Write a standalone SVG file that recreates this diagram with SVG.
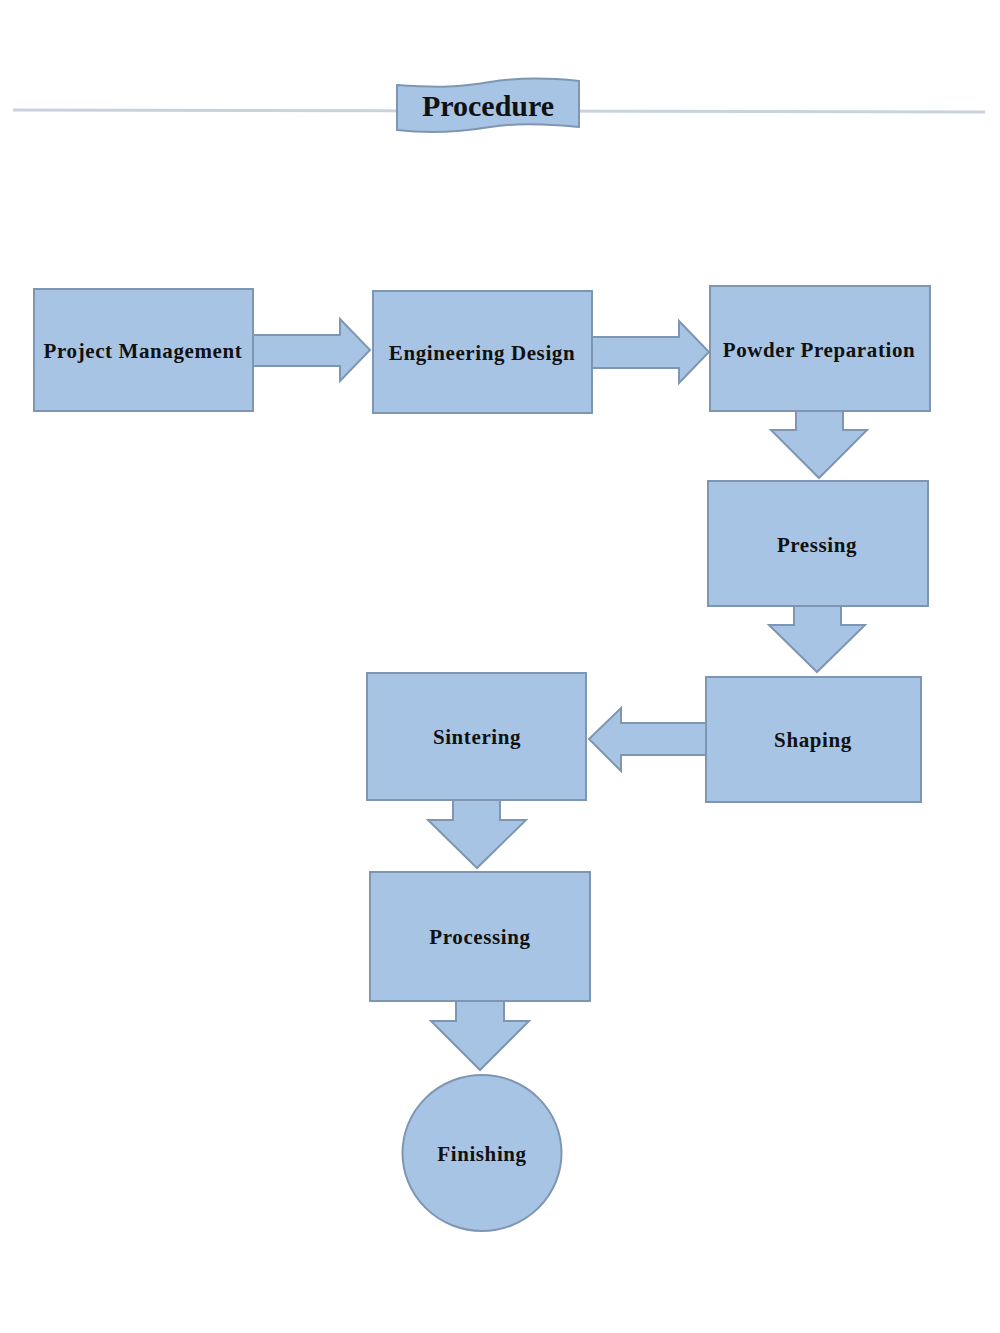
<svg xmlns="http://www.w3.org/2000/svg" width="1000" height="1333" viewBox="0 0 1000 1333">
<style>
.box{fill:#a8c4e4;stroke:#7f96b2;stroke-width:2}
.af{fill:#a8c4e4;stroke:none}
.as{fill:none;stroke:#7f96b2;stroke-width:2;stroke-linejoin:miter}
.t{font-family:"Liberation Serif","Times New Roman",serif;font-weight:bold;font-size:21px;letter-spacing:0.6px;fill:#111;text-anchor:middle}
</style>
<rect width="1000" height="1333" fill="#fff"/>
<g id="header">
<line x1="13" y1="110" x2="985" y2="112" stroke="#c9d2de" stroke-width="3"/>
<path d="M397,85 C440,88 460,87 490,82 C520,77 550,78 579,81 L579,127 C550,124 520,122 490,127 C460,132 430,134 397,130 Z" fill="#a8c4e4" stroke="#7f96b2" stroke-width="2"/>
<text x="488" y="116" class="t" style="font-size:30px;letter-spacing:0">Procedure</text>
</g>
<g id="connectors">
<polygon class="af" points="252,335 340,335 340,319 370,350 340,381 340,366 252,366"/>
<polyline class="as" points="253,335 340,335 340,319 370,350 340,381 340,366 253,366"/>
<polygon class="af" points="591,337 679,337 679,321 709,352 679,383 679,368 591,368"/>
<polyline class="as" points="592,337 679,337 679,321 709,352 679,383 679,368 592,368"/>
<polygon class="af" points="796,410 843,410 843,430 867,430 819,478 771,430 796,430"/>
<polyline class="as" points="796,411 796,430 771,430 819,478 867,430 843,430 843,411"/>
<polygon class="af" points="794,605 841,605 841,625 865,625 817,672 769,625 794,625"/>
<polyline class="as" points="794,606 794,625 769,625 817,672 865,625 841,625 841,606"/>
<polygon class="af" points="707,723 621,723 621,708 589,739 621,771 621,755 707,755"/>
<polyline class="as" points="706,723 621,723 621,708 589,739 621,771 621,755 706,755"/>
<polygon class="af" points="453,799 500,799 500,820 526,820 477,868 428,820 453,820"/>
<polyline class="as" points="453,800 453,820 428,820 477,868 526,820 500,820 500,800"/>
<polygon class="af" points="456,1000 504,1000 504,1021 529,1021 480,1070 431,1021 456,1021"/>
<polyline class="as" points="456,1001 456,1021 431,1021 480,1070 529,1021 504,1021 504,1001"/>
</g>
<g id="project-management"><rect class="box" x="34" y="289" width="219" height="122"/><text class="t" x="143" y="358">Project Management</text></g>
<g id="engineering-design"><rect class="box" x="373" y="291" width="219" height="122"/><text class="t" x="482" y="360">Engineering Design</text></g>
<g id="powder-preparation"><rect class="box" x="710" y="286" width="220" height="125"/><text class="t" x="819" y="357">Powder Preparation</text></g>
<g id="pressing"><rect class="box" x="708" y="481" width="220" height="125"/><text class="t" x="817" y="552">Pressing</text></g>
<g id="shaping"><rect class="box" x="706" y="677" width="215" height="125"/><text class="t" x="813" y="747">Shaping</text></g>
<g id="sintering"><rect class="box" x="367" y="673" width="219" height="127"/><text class="t" x="477" y="744">Sintering</text></g>
<g id="processing"><rect class="box" x="370" y="872" width="220" height="129"/><text class="t" x="480" y="944">Processing</text></g>
<g id="finishing"><ellipse class="box" cx="482" cy="1153" rx="79.5" ry="78"/><text class="t" x="482" y="1161">Finishing</text></g>
</svg>
